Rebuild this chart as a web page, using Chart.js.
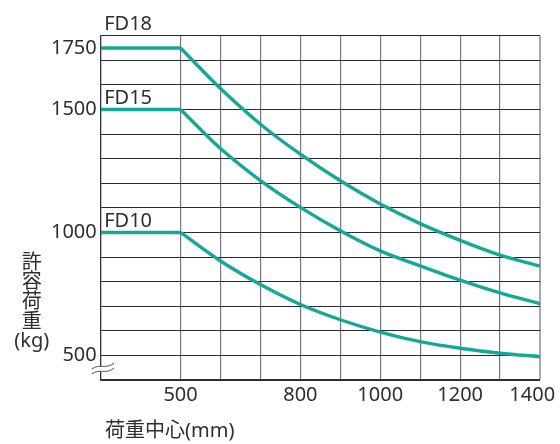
<!DOCTYPE html>
<html><head><meta charset="utf-8">
<script src="https://cdn.jsdelivr.net/npm/chart.js@4"></script>
<style>html,body{margin:0;padding:0;background:#fff}#wrap{width:560px;height:444px}</style>
</head><body><div id="wrap"><canvas id="c" width="560" height="444"></canvas></div>
<script>
// ---- data ----
const loadCenters = [300, 500, 600, 700, 800, 900, 1000, 1100, 1200, 1300, 1400];
const fd18 = [1750, 1750, 1585, 1440, 1318, 1210, 1116, 1036, 968, 908, 863];
const fd15 = [1500, 1500, 1341, 1211, 1102, 1007, 925, 864, 806, 754, 710];
const fd10 = [1000, 1000, 884, 788, 707, 645, 595, 556, 529, 509, 495];
const seriesNames = ['FD18', 'FD15', 'FD10'];
const xGridValues = [300, 400, 500, 600, 700, 800, 900, 1000, 1100, 1200, 1300, 1400];
const xTickLabels = [500, 800, 1000, 1200, 1400];
const yGridValues = [400, 500, 600, 700, 800, 900, 1000, 1100, 1200, 1300, 1400, 1500, 1600, 1700, 1800];
const yTickLabels = [500, 1000, 1500, 1750];
const yTitle = ['許', '容', '荷', '重', '(kg)'];
const xTitle = '荷重中心(mm)';

const TEAL = '#15a797';
const FONT = '"Noto Sans", "Noto Sans CJK JP", sans-serif';
const TXT = '#2e2e2e';

const allSeries = [fd18, fd15, fd10];
const datasets = [];
allSeries.forEach((s, i) => {
  // flat part (first two points) drawn straight
  datasets.push({
    label: seriesNames[i] + ' flat',
    data: [{x: loadCenters[0], y: s[0]}, {x: loadCenters[1], y: s[1]}],
    borderColor: TEAL, borderWidth: 3.4, pointRadius: 0, tension: 0
  });
  datasets.push({
    label: seriesNames[i],
    data: loadCenters.slice(1).map((x, k) => ({x, y: s[k + 1]})),
    borderColor: TEAL, borderWidth: 3.4, pointRadius: 0,
    cubicInterpolationMode: 'monotone'
  });
});

const decor = {
  id: 'decor',
  afterDraw(chart) {
    const {ctx, chartArea: a, scales: {y}} = chart;
    ctx.save();
    // axis break marks
    const L = a.left, B = a.bottom;
    ctx.beginPath();
    ctx.moveTo(L - 9, B - 11);
    ctx.bezierCurveTo(L - 1, B - 17, L + 5, B - 10, L + 13.5, B - 17);
    ctx.lineTo(L + 13.5, B - 12);
    ctx.bezierCurveTo(L + 5, B - 5, L - 1, B - 12, L - 9, B - 6);
    ctx.closePath();
    ctx.fillStyle = '#fff';
    ctx.fill();
    ctx.beginPath();
    ctx.moveTo(L - 9, B - 11);
    ctx.bezierCurveTo(L - 1, B - 17, L + 5, B - 10, L + 13.5, B - 17);
    ctx.moveTo(L - 9, B - 6);
    ctx.bezierCurveTo(L - 1, B - 12, L + 5, B - 5, L + 13.5, B - 12);
    ctx.strokeStyle = '#555';
    ctx.lineWidth = 1;
    ctx.stroke();

    // series labels
    ctx.font = '20px ' + FONT;
    ctx.fillStyle = TXT;
    ctx.textAlign = 'left';
    ctx.textBaseline = 'alphabetic';
    allSeries.forEach((s, i) => {
      let base = y.getPixelForValue(s[0]) - 5;
      if (base - 14 < a.top) base = a.top - 5.5;
      ctx.fillText(seriesNames[i], a.left + 3.5, base);
    });

    // y title (vertical, stacked)
    ctx.textAlign = 'center';
    ctx.textBaseline = 'middle';
    yTitle.forEach((t, i) => {
      ctx.fillText(t, 31.7, 263 + i * 19.6);
    });

    // x title
    ctx.textAlign = 'left';
    ctx.fillText(xTitle, 105, 431);
    ctx.restore();
  }
};

new Chart(document.getElementById('c'), {
  type: 'line',
  data: {datasets},
  options: {
    responsive: false,
    animation: false,
    devicePixelRatio: 1,
    layout: {padding: {left: 0, right: 20, top: 35.7, bottom: 0}},
    plugins: {legend: {display: false}, tooltip: {enabled: false}},
    scales: {
      x: {
        type: 'linear', min: 300, max: 1400,
        afterBuildTicks: s => { s.ticks = xGridValues.map(v => ({value: v})); },
        afterFit: s => { s.height = 64; s.paddingLeft = 0; s.paddingRight = 0; },
        grid: {
          drawTicks: false,
          color: c => (c.tick && c.tick.value === 400) ? 'rgba(0,0,0,0)' : (c.tick && c.tick.value === 1400 ? '#a8a8a8' : '#777'),
          lineWidth: c => (c.tick && c.tick.value === 1400) ? 2 : 1.2
        },
        border: {color: '#333', width: 1.2},
        ticks: {
          autoSkip: false, maxRotation: 0, padding: 3, color: TXT,
          font: {size: 20, family: FONT},
          callback: v => xTickLabels.includes(v) ? (v === 1400 ? '1400   ' : String(v)) : ''
        }
      },
      y: {
        type: 'linear', min: 400, max: 1800,
        afterBuildTicks: s => {
          s.ticks = yGridValues.concat(yTickLabels.filter(v => !yGridValues.includes(v)))
            .sort((p, q) => p - q).map(v => ({value: v}));
        },
        afterFit: s => { s.width = 100.7; s.paddingTop = 0; s.paddingBottom = 0; },
        grid: {
          drawTicks: false,
          color: c => (c.tick && !yGridValues.includes(c.tick.value)) ? 'rgba(0,0,0,0)' : '#2a2a2a',
          lineWidth: 1
        },
        border: {color: '#333', width: 1.2},
        ticks: {
          autoSkip: false, padding: 4, color: TXT,
          font: {size: 20, family: FONT},
          callback: v => yTickLabels.includes(v) ? String(v) : ''
        }
      }
    }
  },
  plugins: [decor]
});
</script>
</body></html>
